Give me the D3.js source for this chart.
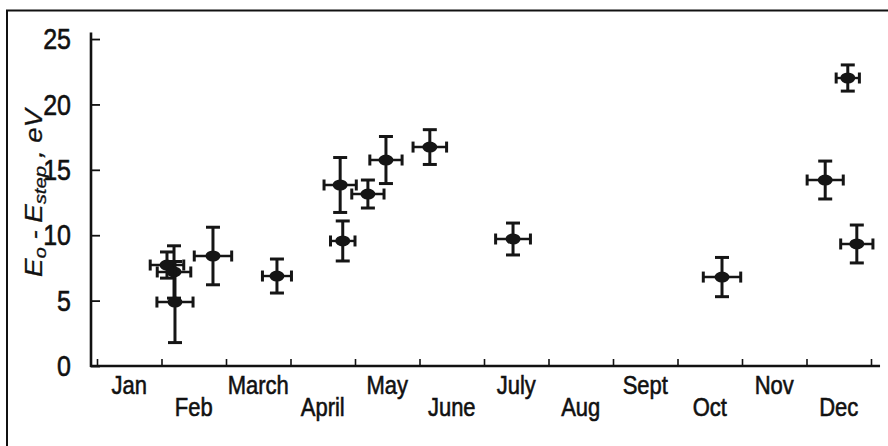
<!DOCTYPE html>
<html>
<head>
<meta charset="utf-8">
<script src="https://cdn.jsdelivr.net/npm/d3@7"></script>
<style>
  body { margin: 0; background: #fff; }
  svg { display: block; }
  text { font-family: "Liberation Sans", Arial, sans-serif; fill: #111; stroke: #111; stroke-width: 0.5px; }
</style>
</head>
<body>
<svg width="888" height="446"></svg>
<script>
// months on the x axis (each month spans one unit)
const months = ["Jan", "Feb", "March", "April", "May", "June", "July", "Aug", "Sept", "Oct", "Nov", "Dec"];
const yTicks = [0, 5, 10, 15, 20, 25];

// measurements: position in months (0 = start of Jan), value in eV, and errors
const xMonth = [1.085, 1.194, 1.209, 1.798, 2.79, 3.81, 3.77, 4.20, 4.48, 5.16, 6.45, 9.69, 11.64, 11.29, 11.78];
const xErr   = [0.26, 0.26, 0.28, 0.29, 0.225, 0.19, 0.25, 0.25, 0.25, 0.26, 0.27, 0.29, 0.18, 0.28, 0.25];
const yVal   = [7.72, 7.19, 4.89, 8.41, 6.88, 9.56, 13.84, 13.15, 15.75, 16.74, 9.71, 6.80, 22.02, 14.22, 9.33];
const yErr   = [1.0, 2.0, 3.1, 2.2, 1.3, 1.53, 2.1, 1.07, 1.8, 1.33, 1.22, 1.5, 1.0, 1.45, 1.45];

const svg = d3.select("svg");

const x = d3.scaleLinear().domain([0, 12]).range([97, 871]);
const y = d3.scaleLinear().domain([0, 25.5]).range([366, 32.5]);

// frame (cut at right and bottom like the scan)
svg.append("rect")
    .attr("x", 7).attr("y", 10.5)
    .attr("width", 900).attr("height", 460)
    .attr("fill", "none").attr("stroke", "#111").attr("stroke-width", 2);

// y axis
const yAxis = svg.append("g")
    .attr("transform", `translate(91,0)`)
    .call(d3.axisLeft(y).tickValues(yTicks).tickSize(-9).tickPadding(20).tickSizeOuter(0));
yAxis.select(".domain").remove();
yAxis.selectAll(".tick line").attr("stroke", "#111").attr("stroke-width", 1.8);
yAxis.selectAll(".tick text")
    .attr("font-size", 25)
    .attr("fill", "#111")
    .attr("transform", "scale(1,1.2)");

svg.append("line")
    .attr("x1", 91).attr("x2", 91)
    .attr("y1", y(0) + 1).attr("y2", y(25.5))
    .attr("stroke", "#111").attr("stroke-width", 2.6);

// x axis
const xAxis = svg.append("g")
    .attr("transform", `translate(0,${y(0)})`)
    .call(d3.axisBottom(x).tickValues(d3.range(0, 13)).tickSize(-7).tickFormat("").tickSizeOuter(0));
xAxis.select(".domain").remove();
xAxis.selectAll(".tick line").attr("stroke", "#111").attr("stroke-width", 1.6);

svg.append("line")
    .attr("x1", 90).attr("x2", x(12.14))
    .attr("y1", y(0)).attr("y2", y(0))
    .attr("stroke", "#111").attr("stroke-width", 2.4);

// month labels, staggered on two rows
svg.append("g").selectAll("text")
    .data(months)
    .join("text")
    .attr("text-anchor", "middle")
    .attr("font-size", 22)
    .attr("transform", (d, i) => `translate(${x(i + 0.5)},${i % 2 === 0 ? 394 : 416}) scale(1,1.14)`)
    .text(d => d);

// y axis title
const title = svg.append("text")
    .attr("transform", "translate(42,193) rotate(-90) scale(1.2,1)")
    .attr("text-anchor", "middle")
    .attr("font-size", 23)
    .attr("font-style", "italic")
    .style("stroke-width", "0.3px");
title.append("tspan").text("E");
title.append("tspan").attr("font-size", 17).attr("dy", 4).text("o");
title.append("tspan").attr("dy", -4).text(" - E");
title.append("tspan").attr("font-size", 17).attr("dy", 4).text("step");
title.append("tspan").attr("dy", -4).text(" , eV");

// error bars and markers
const pts = xMonth.map((m, i) => ({ m, xe: xErr[i], v: yVal[i], ye: yErr[i] }));
const g = svg.append("g").attr("stroke", "#151515").attr("fill", "#151515");

pts.forEach(p => {
    const cx = x(p.m), cy = y(p.v);
    const x0 = x(p.m - p.xe), x1 = x(p.m + p.xe);
    const y0 = y(p.v - p.ye), y1 = y(p.v + p.ye);
    // vertical
    g.append("line").attr("x1", cx).attr("x2", cx).attr("y1", y0).attr("y2", y1).attr("stroke-width", 3);
    g.append("line").attr("x1", cx - 7).attr("x2", cx + 7).attr("y1", y0).attr("y2", y0).attr("stroke-width", 3);
    g.append("line").attr("x1", cx - 7).attr("x2", cx + 7).attr("y1", y1).attr("y2", y1).attr("stroke-width", 3);
    // horizontal
    g.append("line").attr("x1", x0).attr("x2", x1).attr("y1", cy).attr("y2", cy).attr("stroke-width", 2.4);
    g.append("line").attr("x1", x0).attr("x2", x0).attr("y1", cy - 5.5).attr("y2", cy + 5.5).attr("stroke-width", 3);
    g.append("line").attr("x1", x1).attr("x2", x1).attr("y1", cy - 5.5).attr("y2", cy + 5.5).attr("stroke-width", 3);
    g.append("ellipse").attr("cx", cx).attr("cy", cy).attr("rx", 7.5).attr("ry", 5.5).attr("stroke", "none");
});
</script>
</body>
</html>
